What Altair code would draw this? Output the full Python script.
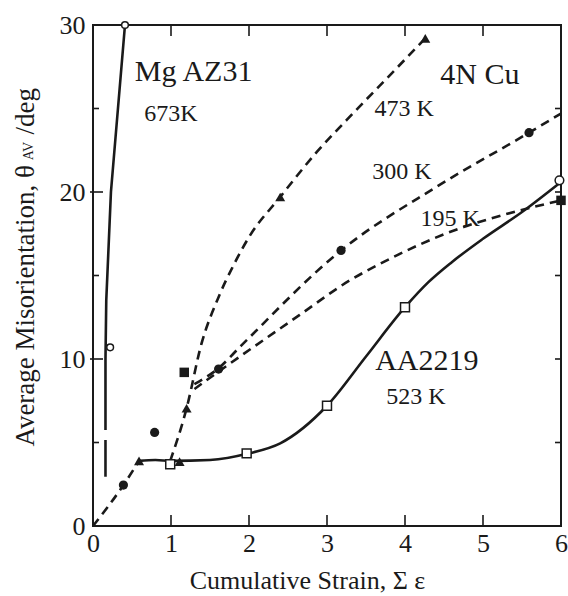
import altair as alt
import pandas as pd

FONT = "Liberation Serif"
INK = "#1a1a1a"

# ---------------- data ----------------
# markers
mg_x = [0.22, 0.41]
mg_y = [10.7, 30.0]
aa_x = [0.99, 1.97, 3.0, 4.0]
aa_y = [3.7, 4.35, 7.2, 13.1]
aa_end_x = [5.98]
aa_end_y = [20.7]
cu473_x = [0.59, 1.11, 1.2, 2.4, 4.26]
cu473_y = [3.9, 3.85, 7.05, 19.7, 29.2]
cu300_x = [0.39, 0.79, 1.61, 3.18, 5.59]
cu300_y = [2.45, 5.6, 9.4, 16.5, 23.55]
cu195_x = [1.17, 6.0]
cu195_y = [9.2, 19.5]

# curves
mg_curve_x = [0.16, 0.16, 0.17, 0.23, 0.41]
mg_curve_y = [5.75, 10.0, 13.5, 20.0, 30.0]
mg_low_x = [0.16, 0.16]
mg_low_y = [2.95, 5.15]
aa_curve_x = [0.59, 0.8, 1.0, 1.5, 2.0, 2.4, 3.0, 3.5, 4.0, 4.3, 4.6, 5.0, 5.5, 6.0]
aa_curve_y = [3.9, 3.95, 3.9, 3.95, 4.35, 4.95, 7.2, 10.15, 13.1, 14.6, 15.8, 17.2, 18.8, 20.6]
cu0_curve_x = [0.0, 0.39, 0.59]
cu0_curve_y = [0.0, 2.45, 3.9]
cu473_curve_x = [0.99, 1.2, 1.39, 1.6, 1.8, 2.0, 2.4, 2.87, 3.25, 3.89, 4.26]
cu473_curve_y = [3.9, 7.05, 10.9, 13.6, 15.6, 17.3, 19.7, 22.4, 24.3, 27.4, 29.2]
cu300_curve_x = [1.3, 1.61, 1.9, 3.18, 4.4, 5.59, 6.0]
cu300_curve_y = [8.5, 9.45, 10.8, 16.5, 20.3, 23.55, 24.7]
cu195_curve_x = [1.3, 1.46, 2.65, 3.29, 3.68, 4.75, 5.09, 6.0]
cu195_curve_y = [8.2, 8.74, 12.64, 14.7, 15.7, 17.9, 18.4, 19.5]

# annotations
big_labels = ["Mg AZ31", "4N Cu", "AA2219"]
big_x = [1.29, 4.96, 4.28]
big_y = [27.2, 27.0, 9.9]
small_labels = ["673K", "473 K", "300 K", "195 K", "523 K"]
small_x = [1.0, 3.99, 3.96, 4.58, 4.14]
small_y = [24.7, 25.0, 21.2, 18.4, 7.7]

x_ticks = [0, 1, 2, 3, 4, 5, 6]
y_ticks = [0, 10, 20, 30]
x_minor = [1, 2, 3, 4, 5]
y_major_in = [10, 20]
y_minor_in = [5, 15, 25]
y_right = [5, 10, 15, 20, 25]

W, H = 468, 501

xs = alt.Scale(domain=[0, 6], nice=False, zero=False)
ys = alt.Scale(domain=[0, 30], nice=False, zero=False)
X = alt.X("x:Q", scale=xs, axis=alt.Axis(
    values=x_ticks, format="d", ticks=False, domain=False, grid=False,
    labelFont=FONT, labelFontSize=26, labelColor=INK, labelPadding=4, labelFlush=False,
    title="Cumulative Strain, Σ ε", titleFont=FONT, titleFontSize=26,
    titleFontWeight="normal", titleColor=INK, titleX=214, titleY=54,
    titleBaseline="middle", titleAlign="center"))
Y = alt.Y("y:Q", scale=ys, axis=alt.Axis(
    values=y_ticks, format="d", ticks=False, domain=False, grid=False,
    labelFont=FONT, labelFontSize=26, labelColor=INK, labelPadding=8, labelFlush=False,
    title=None))


def curve(name, xv, yv):
    return pd.DataFrame({"x": xv, "y": yv, "s": name, "i": range(len(xv))})


solid = pd.concat([curve("mg", mg_curve_x, mg_curve_y),
                   curve("mglow", mg_low_x, mg_low_y)])
dashed = pd.concat([curve("c0", cu0_curve_x, cu0_curve_y),
                    curve("c473", cu473_curve_x, cu473_curve_y),
                    curve("c300", cu300_curve_x, cu300_curve_y),
                    curve("c195", cu195_curve_x, cu195_curve_y)])
aa = curve("aa", aa_curve_x, aa_curve_y)

l_solid = alt.Chart(solid).mark_line(color=INK, strokeWidth=2.6).encode(
    x=X, y=Y, detail="s:N", order="i:Q")
l_aa = alt.Chart(aa).mark_line(color=INK, strokeWidth=2.6, interpolate="monotone").encode(
    x=X, y=Y, order="i:Q")
l_dash = alt.Chart(dashed).mark_line(color=INK, strokeWidth=2.6, strokeDash=[9, 6],
                                     interpolate="monotone").encode(
    x=X, y=Y, detail="s:N", order="i:Q")


def pts(xv, yv, shape, filled, size, sw=1.5):
    df = pd.DataFrame({"x": xv, "y": yv})
    return alt.Chart(df).mark_point(shape=shape, filled=filled, size=size, color=INK,
                                    fill=INK if filled else "white", opacity=1,
                                    strokeWidth=sw).encode(x=X, y=Y)


p_mg = pts(mg_x, mg_y, "circle", False, 45)
p_aa = pts(aa_x, aa_y, "square", False, 80)
p_aae = pts(aa_end_x, aa_end_y, "circle", False, 75)
p_473 = pts(cu473_x, cu473_y, "triangle-up", True, 100)
p_300 = pts(cu300_x, cu300_y, "circle", True, 85)
p_195 = pts(cu195_x, cu195_y, "square", True, 90)

big = alt.Chart(pd.DataFrame({"x": big_x, "y": big_y, "t": big_labels})).mark_text(
    font=FONT, fontSize=30, color=INK, align="center", baseline="middle").encode(
    x=X, y=Y, text="t:N")
small = alt.Chart(pd.DataFrame({"x": small_x, "y": small_y, "t": small_labels})).mark_text(
    font=FONT, fontSize=24, color=INK, align="center", baseline="middle").encode(
    x=X, y=Y, text="t:N")

# tick marks (inward)
tb = pd.DataFrame({"x": x_minor})
t_bottom = alt.Chart(tb).mark_rule(color=INK, strokeWidth=1.6).encode(
    x=X, y=alt.value(H), y2=alt.value(H - 11))
t_top = alt.Chart(tb).mark_rule(color=INK, strokeWidth=1.6).encode(
    x=X, y=alt.value(0), y2=alt.value(11))
t_lmaj = alt.Chart(pd.DataFrame({"y": y_major_in})).mark_rule(color=INK, strokeWidth=1.6).encode(
    y=Y, x=alt.value(-3), x2=alt.value(10))
t_lmin = alt.Chart(pd.DataFrame({"y": y_minor_in})).mark_rule(color=INK, strokeWidth=1.6).encode(
    y=Y, x=alt.value(0), x2=alt.value(6))
t_right = alt.Chart(pd.DataFrame({"y": y_right})).mark_rule(color=INK, strokeWidth=1.6).encode(
    y=Y, x=alt.value(W - 6), x2=alt.value(W))

# y-axis title with subscript
yt_main = alt.Chart(pd.DataFrame({"t": ["Average Misorientation, θ"]})).mark_text(
    font=FONT, fontSize=27, color=INK, angle=270, align="right", baseline="middle").encode(
    x=alt.value(-67), y=alt.value(140), text="t:N")
yt_sub = alt.Chart(pd.DataFrame({"t": ["AV"]})).mark_text(
    font=FONT, fontSize=14, color=INK, angle=270, align="center", baseline="middle").encode(
    x=alt.value(-64), y=alt.value(126), text="t:N")
yt_end = alt.Chart(pd.DataFrame({"t": ["/deg"]})).mark_text(
    font=FONT, fontSize=27, color=INK, angle=270, align="right", baseline="middle").encode(
    x=alt.value(-67), y=alt.value(63), text="t:N")

chart = alt.layer(
    l_solid, l_aa, l_dash,
    p_mg, p_aa, p_aae, p_473, p_300, p_195,
    big, small,
    t_bottom, t_top, t_lmaj, t_lmin, t_right,
    yt_main, yt_sub, yt_end,
).properties(
    width=W, height=H,
    autosize=alt.AutoSizeParams(type="none"),
    padding={"left": 93, "top": 25, "right": 7, "bottom": 70},
    background="white",
).configure_view(stroke=INK, strokeWidth=2)

chart.save("out.html", embed_options={"renderer": "svg", "actions": False})
